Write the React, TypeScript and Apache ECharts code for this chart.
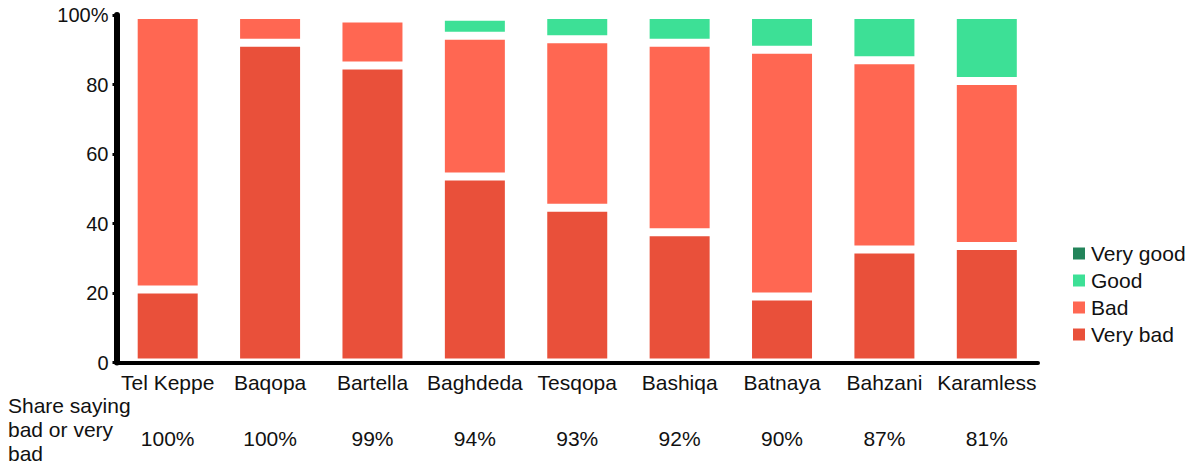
import React, { useEffect, useRef } from "react";
import * as echarts from "echarts";

const categories = ["Tel Keppe", "Baqopa", "Bartella", "Baghdeda", "Tesqopa", "Bashiqa", "Batnaya", "Bahzani", "Karamless"];
const veryBad = [21, 92, 85.5, 53.5, 44.5, 37.5, 19, 32.5, 33.5];
const bad = [79, 8, 13.5, 40.5, 48.5, 54.5, 71, 54.5, 47.5];
const good = [0, 0, 0, 5.5, 7, 8, 10, 13, 19];
const veryGood = [0, 0, 0, 0, 0, 0, 0, 0, 0];
const shareLabels = ["100%", "100%", "99%", "94%", "93%", "92%", "90%", "87%", "81%"];

const FONT = "Liberation Sans, Arial, Helvetica, sans-serif";

export default function App() {
  const ref = useRef<HTMLDivElement>(null);
  useEffect(() => {
    const chart = echarts.init(ref.current!, null, { renderer: "svg" });
    const mk = (name: string, data: number[], color: string) => ({
      name,
      type: "bar",
      stack: "total",
      data,
      barWidth: 68,
      itemStyle: { color, borderColor: "#ffffff", borderWidth: 4 },
    });
    chart.setOption({
      animation: false,
      textStyle: { fontFamily: FONT },
      grid: { left: 116.5, right: 158, top: 15, bottom: 100.5, containLabel: false },
      legend: {
        orient: "vertical",
        left: 1071,
        top: 243,
        padding: 0,
        itemWidth: 14,
        itemHeight: 14,
        itemGap: 6,
        icon: "rect",
        data: ["Very good", "Good", "Bad", "Very bad"],
        textStyle: { fontSize: 21, color: "#111", fontFamily: FONT },
      },
      xAxis: [
        {
          type: "category",
          data: categories,
          z: 5,
          axisLine: { lineStyle: { color: "#000", width: 4 } },
          axisTick: { show: false },
          axisLabel: { fontSize: 21, color: "#111", margin: 9, interval: 0, fontFamily: FONT },
        },
        {
          type: "category",
          data: shareLabels,
          position: "bottom",
          offset: 56,
          axisLine: { show: false },
          axisTick: { show: false },
          axisLabel: { fontSize: 21, color: "#111", margin: 9, interval: 0, fontFamily: FONT },
        },
      ],
      yAxis: {
        type: "value",
        min: 0,
        max: 100,
        interval: 20,
        z: 5,
        splitLine: { show: false },
        axisLine: { show: true, lineStyle: { color: "#000", width: 6 } },
        axisTick: { show: true, length: 4, lineStyle: { color: "#000", width: 3 } },
        axisLabel: {
          fontSize: 20,
          color: "#111",
          margin: 8,
          fontFamily: FONT,
          formatter: (v: number) => (v === 100 ? "100%" : String(v)),
        },
      },
      graphic: [
        {
          type: "text",
          left: 8,
          top: 393,
          style: {
            text: "Share saying\nbad or very\nbad",
            fontSize: 21,
            lineHeight: 24,
            fill: "#111",
            fontFamily: FONT,
          },
        },
      ],
      series: [
        mk("Very bad", veryBad, "#e9503a"),
        mk("Bad", bad, "#ff6752"),
        mk("Good", good, "#3de096"),
        mk("Very good", veryGood, "#23845a"),
      ],
    });
    return () => chart.dispose();
  }, []);
  return <div ref={ref} style={{ position: "absolute", left: 0, top: 0, width: 1196, height: 463 }} />;
}
